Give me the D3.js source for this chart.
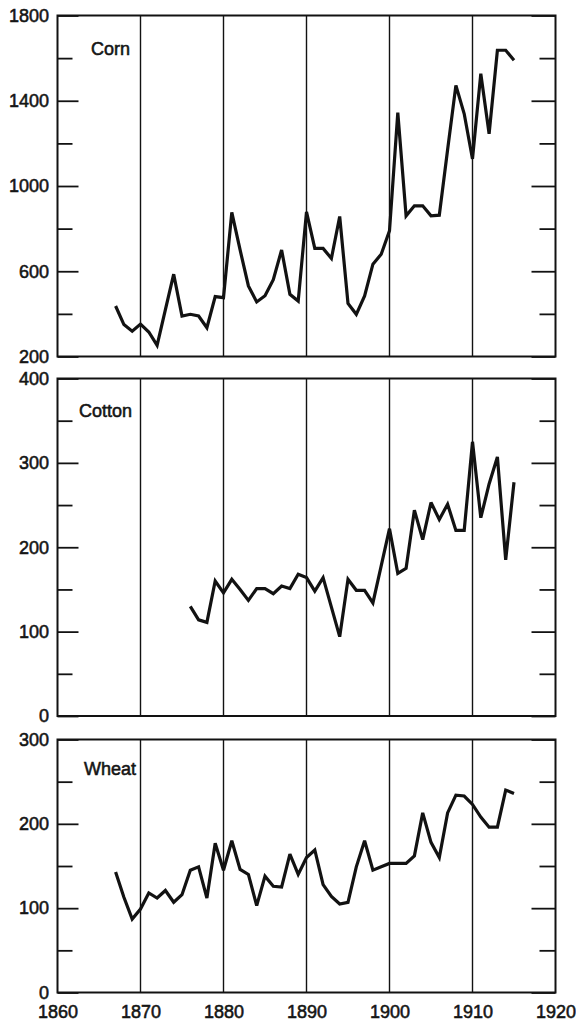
<!DOCTYPE html>
<html>
<head>
<meta charset="utf-8">
<script src="https://cdn.jsdelivr.net/npm/d3@7"></script>
<style>
  html, body { margin: 0; padding: 0; background: #fff; }
  svg { display: block; }
  text { font-family: "Liberation Sans", Arial, Helvetica, sans-serif; fill: #161616; }
</style>
</head>
<body>
<svg id="chart" width="576" height="1022"></svg>
<script>
// ---- data -------------------------------------------------------------
const cornYears = [1867,1868,1869,1870,1871,1872,1873,1874,1875,1876,1877,1878,1879,1880,
  1881,1882,1883,1884,1885,1886,1887,1888,1889,1890,1891,1892,1893,1894,1895,1896,1897,1898,
  1899,1900,1901,1902,1903,1904,1905,1906,1907,1908,1909,1910,1911,1912,1913,1914,1915];
const cornValues = [437,350,319,352,315,252,420,586,390,398,390,335,481,476,
  876,700,531,456,485,560,700,492,460,879,707,707,660,857,449,398,484,633,
  680,790,1344,860,907,907,860,863,1170,1472,1339,1127,1527,1245,1637,1637,1590];

const cottonYears = [1876,1877,1878,1879,1880,1881,1882,1883,1884,1885,1886,1887,1888,1889,
  1890,1891,1892,1893,1894,1895,1896,1897,1898,1899,1900,1901,1902,1903,1904,1905,1906,1907,
  1908,1909,1910,1911,1912,1913,1914,1915];
const cottonValues = [130,114,111,160,146,162,150,137,151,151,145,154,151,168,
  164,148,164,129,94,162,149,149,134,178,222,169,175,244,209,253,233,251,
  220,220,325,235,275,307,185,277];

const wheatYears = [1867,1868,1869,1870,1871,1872,1873,1874,1875,1876,1877,1878,1879,1880,
  1881,1882,1883,1884,1885,1886,1887,1888,1889,1890,1891,1892,1893,1894,1895,1896,1897,1898,
  1899,1900,1901,1902,1903,1904,1905,1906,1907,1908,1909,1910,1911,1912,1913,1914,1915];
const wheatValues = [143,113,87,99,118,112,121,107,116,145,149,112,177,145,
  180,146,140,103,138,126,125,164,140,160,169,128,114,105,107,149,180,145,
  149,153,153,153,162,213,178,160,213,234,233,223,208,196,196,240,236];

const panelNames = ["Corn", "Cotton", "Wheat"];

const cornDomain = [200, 1800];
const cornTicks = [200, 600, 1000, 1400, 1800];
const cornMinorTicks = [400, 800, 1200, 1600];

const cottonDomain = [0, 400];
const cottonTicks = [0, 100, 200, 300, 400];
const cottonMinorTicks = [50, 150, 250, 350];

const wheatDomain = [0, 300];
const wheatTicks = [0, 100, 200, 300];
const wheatMinorTicks = [50, 150, 250];

const yearDomain = [1860, 1920];
const yearTicks = [1860, 1870, 1880, 1890, 1900, 1910, 1920];
const decadeLines = [1870, 1880, 1890, 1900, 1910];

// ---- layout -----------------------------------------------------------
const LEFT = 57.5, RIGHT = 555.5;
const panelBoxes = [
  { top: 15.5,  bottom: 356.5, labelX: 91, labelY: 55 },
  { top: 378.5, bottom: 716,   labelX: 79, labelY: 417 },
  { top: 739.5, bottom: 992.5, labelX: 84, labelY: 775 }
];
const MAJOR_L = 21, MINOR_L = 15, MAJOR_R = 24, MINOR_R = 16;
const INK = "#121212";
const FONT_SIZE = 18, TEXT_STROKE = 0.55;
const plain = d3.format("d");

const panels = [
  { name: panelNames[0], years: cornYears,   values: cornValues,   domain: cornDomain,   ticks: cornTicks,   minor: cornMinorTicks },
  { name: panelNames[1], years: cottonYears, values: cottonValues, domain: cottonDomain, ticks: cottonTicks, minor: cottonMinorTicks },
  { name: panelNames[2], years: wheatYears,  values: wheatValues,  domain: wheatDomain,  ticks: wheatTicks,  minor: wheatMinorTicks }
];

const svg = d3.select("#chart");
const x = d3.scaleLinear().domain(yearDomain).range([LEFT, RIGHT]);

function inkText(sel) {
  sel.attr("font-size", FONT_SIZE).attr("fill", INK)
     .attr("stroke", INK).attr("stroke-width", TEXT_STROKE);
}

panels.forEach((p, i) => {
  const box = panelBoxes[i];
  const y = d3.scaleLinear().domain(p.domain).range([box.bottom, box.top]);
  const g = svg.append("g").attr("class", "panel");

  // decade separators
  g.selectAll("line.decade")
    .data(decadeLines)
    .join("line")
    .attr("class", "decade")
    .attr("x1", d => x(d)).attr("x2", d => x(d))
    .attr("y1", box.top).attr("y2", box.bottom)
    .attr("stroke", INK).attr("stroke-width", 1.4);

  // left axis: labelled ticks pointing inward
  const leftAxis = g.append("g")
    .attr("transform", `translate(${LEFT},0)`)
    .call(d3.axisLeft(y).tickValues(p.ticks).tickSizeInner(-MAJOR_L).tickSizeOuter(0)
      .tickPadding(8.5).tickFormat(plain));
  leftAxis.select(".domain").remove();
  leftAxis.selectAll(".tick line").attr("stroke", INK).attr("stroke-width", 1.8);
  leftAxis.selectAll(".tick text").call(inkText);

  // left minor ticks
  const leftMinor = g.append("g")
    .attr("transform", `translate(${LEFT},0)`)
    .call(d3.axisRight(y).tickValues(p.minor).tickSize(MINOR_L).tickFormat(""));
  leftMinor.select(".domain").remove();
  leftMinor.selectAll(".tick line").attr("stroke", INK).attr("stroke-width", 1.8);

  // right side ticks
  const rightMajor = g.append("g")
    .attr("transform", `translate(${RIGHT},0)`)
    .call(d3.axisLeft(y).tickValues(p.ticks).tickSize(MAJOR_R).tickFormat(""));
  rightMajor.select(".domain").remove();
  rightMajor.selectAll(".tick line").attr("stroke", INK).attr("stroke-width", 1.8);

  const rightMinor = g.append("g")
    .attr("transform", `translate(${RIGHT},0)`)
    .call(d3.axisLeft(y).tickValues(p.minor).tickSize(MINOR_R).tickFormat(""));
  rightMinor.select(".domain").remove();
  rightMinor.selectAll(".tick line").attr("stroke", INK).attr("stroke-width", 1.8);

  // frame
  g.append("rect")
    .attr("x", LEFT).attr("y", box.top)
    .attr("width", RIGHT - LEFT).attr("height", box.bottom - box.top)
    .attr("fill", "none").attr("stroke", INK).attr("stroke-width", 2);

  // series
  const pts = p.years.map((yr, k) => [yr, p.values[k]]);
  g.append("path")
    .datum(pts)
    .attr("fill", "none")
    .attr("stroke", INK)
    .attr("stroke-width", 3.2)
    .attr("stroke-linejoin", "miter")
    .attr("stroke-miterlimit", 3)
    .attr("d", d3.line().x(d => x(d[0])).y(d => y(d[1])));

  // panel name
  g.append("text")
    .attr("x", box.labelX).attr("y", box.labelY)
    .call(inkText)
    .text(p.name);
});

// shared year axis under the last panel
const lastBox = panelBoxes[panelBoxes.length - 1];
const xAxis = svg.append("g")
  .attr("transform", `translate(0,${lastBox.bottom})`)
  .call(d3.axisBottom(x).tickValues(yearTicks).tickSize(0).tickPadding(12.5).tickFormat(plain));
xAxis.select(".domain").remove();
xAxis.selectAll(".tick text").call(inkText);
</script>
</body>
</html>
